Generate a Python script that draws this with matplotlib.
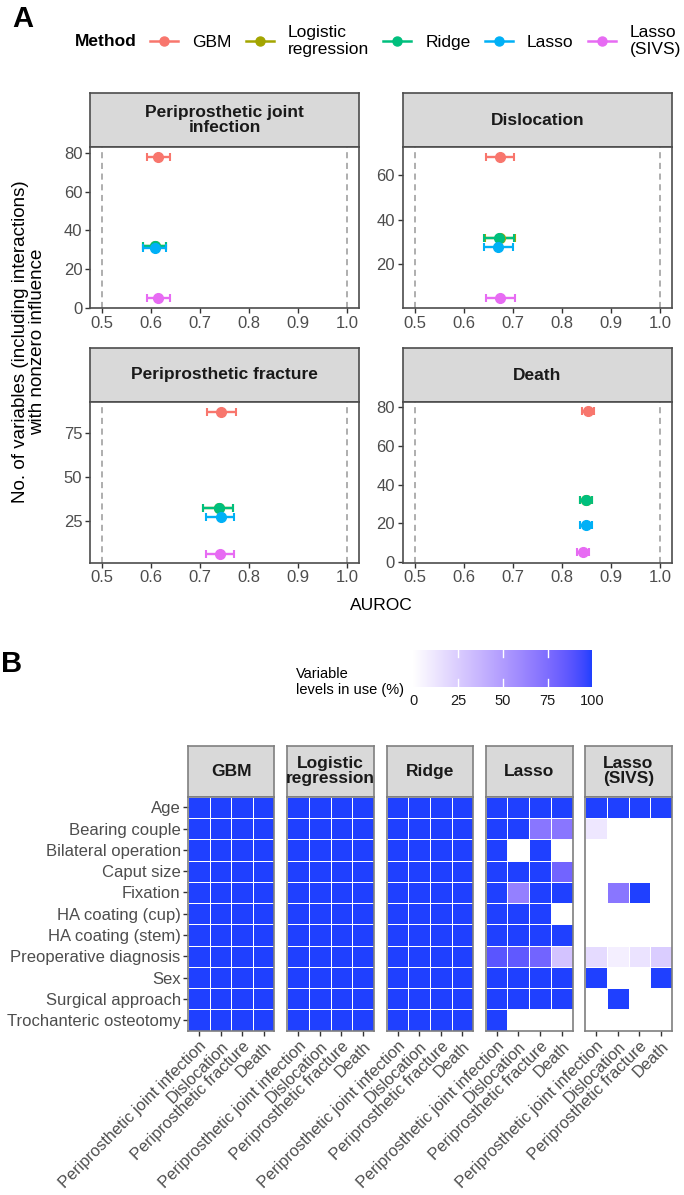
import numpy as np
import matplotlib
matplotlib.use("Agg")
import matplotlib.pyplot as plt
from matplotlib.colors import ListedColormap, to_rgb
from matplotlib.lines import Line2D

plt.rcParams['font.family'] = ['Liberation Sans', 'DejaVu Sans']

# ---------------- data, panel A
methods = ["GBM", "Logistic regression", "Ridge", "Lasso", "Lasso (SIVS)"]
method_labels = ["GBM", "Logistic\nregression", "Ridge", "Lasso", "Lasso\n(SIVS)"]
method_colors = ["#F8766D", "#A3A500", "#00BF7D", "#00B0F6", "#E76BF3"]

outcomes = ["Periprosthetic joint infection", "Dislocation",
            "Periprosthetic fracture", "Death"]
strip_titles = ["Periprosthetic joint\ninfection", "Dislocation",
                "Periprosthetic fracture", "Death"]

# AUROC (estimate, lower, upper) per outcome, methods in order above
auc_pji = [0.615, 0.607, 0.607, 0.607, 0.615]
lo_pji = [0.592, 0.584, 0.584, 0.584, 0.592]
hi_pji = [0.638, 0.630, 0.630, 0.630, 0.638]
auc_disl = [0.674, 0.673, 0.672, 0.670, 0.674]
lo_disl = [0.645, 0.643, 0.641, 0.640, 0.645]
hi_disl = [0.703, 0.704, 0.703, 0.700, 0.704]
auc_frac = [0.743, 0.738, 0.738, 0.742, 0.741]
lo_frac = [0.714, 0.707, 0.706, 0.713, 0.713]
hi_frac = [0.773, 0.768, 0.768, 0.770, 0.770]
auc_death = [0.853, 0.849, 0.849, 0.849, 0.843]
lo_death = [0.841, 0.837, 0.837, 0.836, 0.831]
hi_death = [0.866, 0.861, 0.861, 0.861, 0.856]

# number of variables with nonzero influence
nvar_pji = [78, 32, 32, 31, 5]
nvar_disl = [68, 32, 32, 28, 5]
nvar_frac = [87, 32, 32, 27, 6]
nvar_death = [78, 32, 32, 19, 5]

auc_all = [auc_pji, auc_disl, auc_frac, auc_death]
lo_all = [lo_pji, lo_disl, lo_frac, lo_death]
hi_all = [hi_pji, hi_disl, hi_frac, hi_death]
nvar_all = [nvar_pji, nvar_disl, nvar_frac, nvar_death]
ylims = [(0, 83), (0.5, 72.6), (1, 92.6), (-0.3, 82.9)]
ysteps = [20, 20, 25, 20]

# ---------------- data, panel B (% of variable levels in use)
variables = ["Age", "Bearing couple", "Bilateral operation", "Caput size",
             "Fixation", "HA coating (cup)", "HA coating (stem)",
             "Preoperative diagnosis", "Sex", "Surgical approach",
             "Trochanteric osteotomy"]
heat_methods = ["GBM", "Logistic\nregression", "Ridge", "Lasso", "Lasso\n(SIVS)"]

use_gbm = [[100, 100, 100, 100]] * 11
use_logreg = [[100, 100, 100, 100]] * 11
use_ridge = [[100, 100, 100, 100]] * 11
use_lasso = [[100, 100, 100, 100],
             [100, 100, 70, 70],
             [100, 0, 100, 0],
             [100, 100, 100, 80],
             [100, 65, 100, 100],
             [100, 100, 100, 0],
             [100, 100, 100, 100],
             [88, 86, 80, 30],
             [100, 100, 100, 100],
             [100, 100, 100, 100],
             [100, 0, 0, 0]]
use_sivs = [[100, 100, 100, 100],
            [12, 0, 0, 0],
            [0, 0, 0, 0],
            [0, 0, 0, 0],
            [0, 70, 100, 0],
            [0, 0, 0, 0],
            [0, 0, 0, 0],
            [18, 8, 14, 25],
            [100, 0, 0, 100],
            [0, 100, 0, 0],
            [0, 0, 0, 0]]
use_all = [use_gbm, use_logreg, use_ridge, use_lasso, use_sivs]


# white -> blue gradient interpolated in Lab, like ggplot's scale_fill_gradient
def to_lab(rgb):
    c = np.array(rgb, dtype=float)
    c = np.where(c > 0.04045, ((c + 0.055) / 1.055) ** 2.4, c / 12.92)
    m = np.array([[0.4124, 0.3576, 0.1805],
                  [0.2126, 0.7152, 0.0722],
                  [0.0193, 0.1192, 0.9505]])
    xyz = m @ c / np.array([0.95047, 1.0, 1.08883])
    f = np.where(xyz > 0.008856, np.cbrt(xyz), 7.787 * xyz + 16 / 116)
    return np.array([116 * f[1] - 16, 500 * (f[0] - f[1]), 200 * (f[1] - f[2])])


def from_lab(lab):
    fy = (lab[0] + 16) / 116
    fx = fy + lab[1] / 500
    fz = fy - lab[2] / 200
    f = np.array([fx, fy, fz])
    xyz = np.where(f ** 3 > 0.008856, f ** 3, (f - 16 / 116) / 7.787)
    xyz = xyz * np.array([0.95047, 1.0, 1.08883])
    m = np.array([[3.2406, -1.5372, -0.4986],
                  [-0.9689, 1.8758, 0.0415],
                  [0.0557, -0.2040, 1.0570]])
    c = np.clip(m @ xyz, 0, 1)
    c = np.where(c > 0.0031308, 1.055 * c ** (1 / 2.4) - 0.055, 12.92 * c)
    return np.clip(c, 0, 1)


lab_lo = to_lab(to_rgb("#FFFFFF"))
lab_hi = to_lab(to_rgb("#1F40FF"))
cmap = ListedColormap([from_lab(lab_lo + t * (lab_hi - lab_lo))
                       for t in np.linspace(0, 1, 256)])

# ---------------- figure
W, H = 684, 1195
fig = plt.figure(figsize=(W / 100, H / 100), dpi=100)


def box(x0, y0, x1, y1):
    return fig.add_axes([x0 / W, 1 - y1 / H, (x1 - x0) / W, (y1 - y0) / H])


def strip(x0, y0, x1, y1, label, edge):
    ax = box(x0, y0, x1, y1)
    ax.set_facecolor("#D9D9D9")
    ax.set_xticks([])
    ax.set_yticks([])
    for s in ax.spines.values():
        s.set_color(edge)
        s.set_linewidth(1.2)
    ax.text(0.5, 0.5, label, ha="center", va="center", fontsize=12.5,
            fontweight="bold", color="#1A1A1A", linespacing=1.0,
            transform=ax.transAxes)


# panel A
fig.text(12 / W, 1 - 19 / H, "A", fontsize=21, fontweight="bold", va="center")
fig.text(75 / W, 1 - 41 / H, "Method", fontsize=12.5, fontweight="bold", va="center")
handles = [Line2D([0], [0], color=c, marker="o", ms=6.5, lw=1.8) for c in method_colors]
fig.legend(handles, method_labels, loc="center left",
           bbox_to_anchor=(150 / W, 1 - 41 / H), ncol=5, frameon=False,
           fontsize=12.5, handlelength=1.6, handletextpad=0.8,
           columnspacing=0.85, borderpad=0, borderaxespad=0)

cols_x = [(90, 359), (402.7, 672.3)]
rows_y = [(93.3, 147, 308), (348.3, 401.7, 562.7)]

for i in range(4):
    r, c = divmod(i, 2)
    x0, x1 = cols_x[c]
    ys, yp, yb = rows_y[r]
    strip(x0, ys, x1, yp, strip_titles[i], "#4D4D4D")
    ax = box(x0, yp, x1, yb)
    ax.axvline(0.5, color="#999999", ls=(0, (4, 3)), lw=1.1)
    ax.axvline(1.0, color="#999999", ls=(0, (4, 3)), lw=1.1)
    for j in range(5):
        a = auc_all[i][j]
        ax.errorbar([a], [nvar_all[i][j]],
                    xerr=[[a - lo_all[i][j]], [hi_all[i][j] - a]],
                    fmt="o", color=method_colors[j], ms=7, capsize=2.8,
                    elinewidth=1.7, capthick=1.5)
    ax.set_xlim(0.475, 1.025)
    ax.set_ylim(*ylims[i])
    ax.set_xticks([0.5, 0.6, 0.7, 0.8, 0.9, 1.0])
    ax.set_xticklabels(["0.5", "0.6", "0.7", "0.8", "0.9", "1.0"])
    step = ysteps[i]
    ax.set_yticks([t for t in range(0, 100, step) if ylims[i][0] <= t <= ylims[i][1]])
    ax.tick_params(direction="out", length=3.5, width=1, color="#333333",
                   labelcolor="#4D4D4D", labelsize=12, pad=2)
    for s in ax.spines.values():
        s.set_color("#4D4D4D")
        s.set_linewidth(1.2)

fig.text(29 / W, 1 - 342 / H,
         "No. of variables (including interactions)\nwith nonzero influence",
         rotation=90, ha="center", va="center", fontsize=13.5, linespacing=1.0)
fig.text(381 / W, 1 - 605 / H, "AUROC", ha="center", va="center", fontsize=12.5)

# panel B
fig.text(1 / W, 1 - 664 / H, "B", fontsize=21, fontweight="bold", va="center")
fig.text(404 / W, 1 - 682 / H, "Variable\nlevels in use (%)", ha="right",
         multialignment="left", va="center", fontsize=10.5, linespacing=1.1)
cax = box(413.3, 650, 592.3, 686.7)
cax.imshow(np.linspace(0, 100, 256)[None, :], aspect="auto", cmap=cmap,
           extent=[0, 100, 0, 1], vmin=0, vmax=100)
for t in [25, 50, 75]:
    cax.plot([t, t], [0, 0.2], color="white", lw=1)
    cax.plot([t, t], [0.8, 1], color="white", lw=1)
cax.set_xlim(0, 100)
cax.set_ylim(0, 1)
cax.set_yticks([])
cax.set_xticks([0, 25, 50, 75, 100])
cax.tick_params(length=0, labelsize=10.5, labelcolor="#1A1A1A", pad=5)
for s in cax.spines.values():
    s.set_visible(False)

heat_x = [(188.3, 274.3), (287.3, 374), (386.7, 473.3), (485.7, 572.7), (585.3, 671.7)]
for j in range(5):
    x0, x1 = heat_x[j]
    strip(x0, 745.7, x1, 796.7, heat_methods[j], "#7F7F7F")
    ax = box(x0, 796.7, x1, 1030.7)
    ax.pcolormesh(np.array(use_all[j], dtype=float), cmap=cmap, vmin=0,
                  vmax=100, edgecolors="white", linewidth=0.4)
    ax.set_xlim(0, 4)
    ax.set_ylim(11, 0)
    ax.set_xticks(np.arange(4) + 0.5)
    ax.set_xticklabels(outcomes, rotation=45, ha="right", va="top",
                       rotation_mode="anchor")
    ax.set_yticks(np.arange(11) + 0.5)
    if j == 0:
        ax.set_yticklabels(variables)
    else:
        ax.tick_params(axis="y", left=False, labelleft=False)
    ax.tick_params(direction="out", length=3.5, width=1, color="#333333",
                   labelcolor="#4D4D4D", labelsize=12, pad=2)
    ax.tick_params(axis="x", labelsize=11.8)
    for s in ax.spines.values():
        s.set_color("#7F7F7F")
        s.set_linewidth(1.2)

fig.savefig("out.png", dpi=100)
